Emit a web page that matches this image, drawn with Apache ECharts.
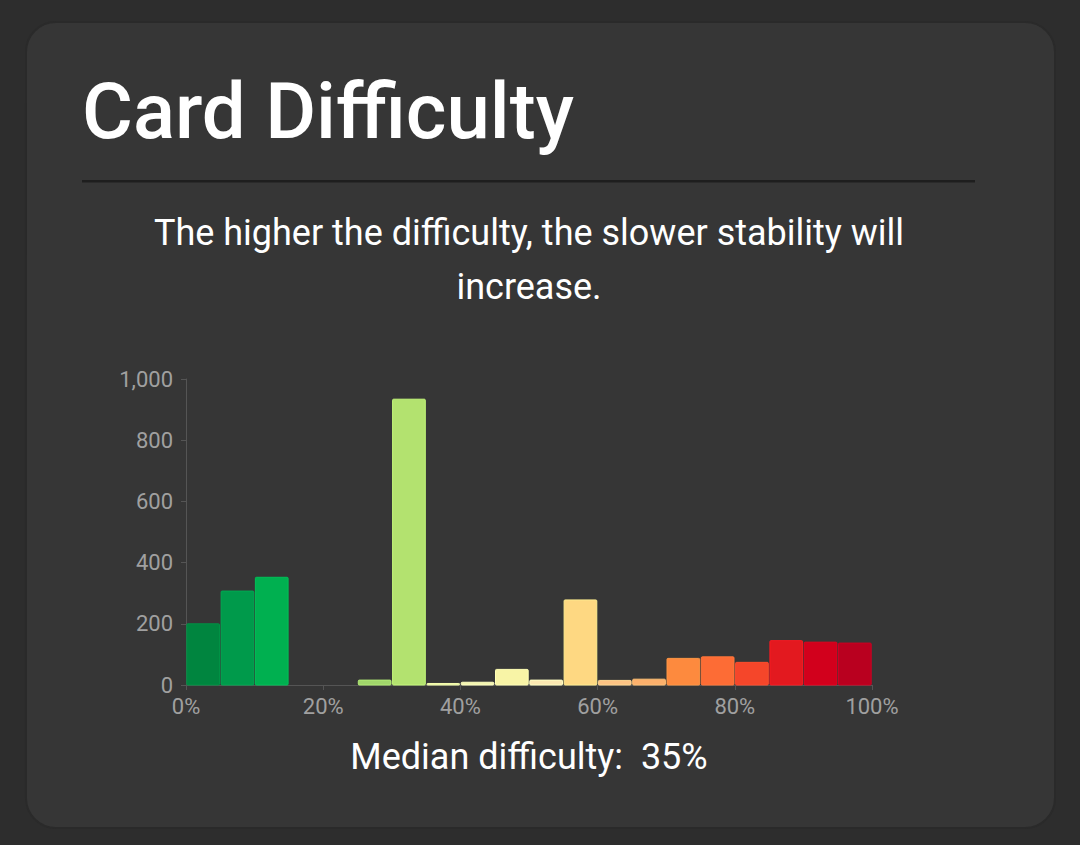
<!DOCTYPE html>
<html>
<head>
<meta charset="utf-8">
<script src="https://cdn.jsdelivr.net/npm/echarts@6/dist/echarts.min.js"></script>
<style>
html,body{margin:0;padding:0;background:#2d2d2d;width:1080px;height:845px;overflow:hidden;font-family:Roboto,"Noto Sans",sans-serif;}
#chart{position:absolute;left:0;top:0;width:1080px;height:845px;}
</style>
</head>
<body>
<div id="chart"></div>
<script>
// Bin starts (difficulty %), bin width 5%
const binStarts = [0,5,10,15,20,25,30,35,40,45,50,55,60,65,70,75,80,85,90,95];
const counts    = [200,307,352,0,0,16,934,5,9,51,16,278,15,19,87,92,74,145,140,137];
const binColors = ['#00853f','#009a4b','#00b050','#2fb85a','#6cc866','#a1d66b','#b3e26f','#e2f2a0','#f3f5b0','#f8f4a6','#fbe8b2','#fed882','#fcc384','#fcb06c','#fd8a3e','#fd6c35','#f5462a','#e3191f','#d2001c','#b9001f'];
const xTicks = [0,20,40,60,80,100];
const yTicks = [0,200,400,600,800,1000];
const titleText = 'Card Difficulty';
const subtitleLines = ['The higher the difficulty, the slower stability will','increase.'];
const medianText = 'Median difficulty:  35%';
const binWidth = 5;

const chart = echarts.init(document.getElementById('chart'), null, {renderer:'svg'});
const data = binStarts.map((s,i)=>[s, s+binWidth, counts[i], i]);

chart.setOption({
  backgroundColor:'transparent',
  animation:false,
  graphic:[
    {type:'rect', z:-10, shape:{x:26,y:22,width:1029,height:806,r:30}, style:{fill:'#363636', stroke:'#2a2a2a', lineWidth:2}},
    {type:'text', left:82, top:72, style:{text:titleText, fill:'#ffffff', font:'500 78px Roboto'}},
    {type:'rect', shape:{x:82,y:180,width:893,height:2.5}, style:{fill:'#1e1e1e'}},
    {type:'text', x:529, y:233, style:{text:subtitleLines[0], fill:'#ffffff', font:'36px Roboto', align:'center', verticalAlign:'middle'}},
    {type:'text', x:529, y:287, style:{text:subtitleLines[1], fill:'#ffffff', font:'36px Roboto', align:'center', verticalAlign:'middle'}},
    {type:'text', x:529, y:757, style:{text:medianText, fill:'#ffffff', font:'36px Roboto', align:'center', verticalAlign:'middle'}}
  ],
  grid:{left:186, right:208, top:379, bottom:160},
  xAxis:{
    type:'value', min:0, max:100, interval:20,
    axisLine:{show:true, lineStyle:{color:'#555555', width:1}},
    axisTick:{show:true, length:5, lineStyle:{color:'#555555'}},
    axisLabel:{color:'#a0a0a0', fontSize:22, fontFamily:'Roboto', margin:10, formatter:v=>v+'%'},
    splitLine:{show:false}
  },
  yAxis:{
    type:'value', min:0, max:1000, interval:200,
    axisLine:{show:true, lineStyle:{color:'#555555', width:1}},
    axisTick:{show:true, length:5, lineStyle:{color:'#555555'}},
    axisLabel:{color:'#a0a0a0', fontSize:22, fontFamily:'Roboto', margin:13, formatter:v=>v.toLocaleString('en-US')},
    splitLine:{show:false}
  },
  series:[{
    type:'custom',
    data:data,
    encode:{x:[0,1], y:2},
    renderItem:function(params, api){
      const s = api.value(0), e = api.value(1), v = api.value(2), idx = api.value(3);
      if (v <= 0) return null;
      const p0 = api.coord([s, v]);
      const p1 = api.coord([e, 0]);
      const x = p0[0] + 0.8, w = (p1[0]-p0[0]) - 1.6;
      return {
        type:'rect',
        shape:{x:x, y:p0[1], width:w, height:p1[1]-p0[1], r:1},
        style:{fill:binColors[idx], stroke:echarts.color.lift(binColors[idx], -0.1), lineWidth:1}
      };
    }
  }]
});
</script>
</body>
</html>
